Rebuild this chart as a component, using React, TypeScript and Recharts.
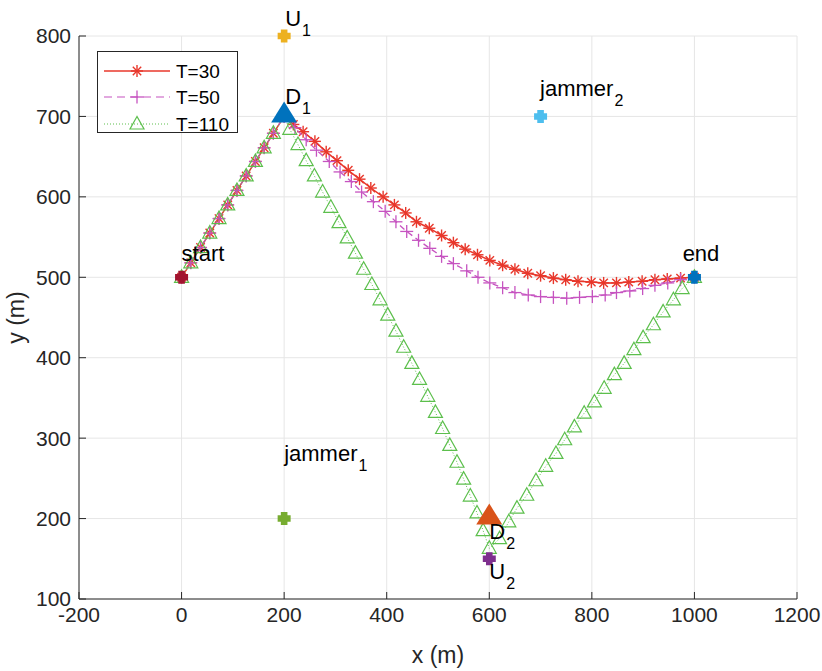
import React from 'react';
import { ScatterChart, Scatter, XAxis, YAxis, CartesianGrid, ReferenceDot } from 'recharts';

const RED = '#e8372b';
const MAGENTA = '#c653c0';
const GREEN = '#5cbf4c';
const AXIS = '#262626';
const FONT = '"Liberation Sans", Arial, Helvetica, sans-serif';

const xTicks = [-200, 0, 200, 400, 600, 800, 1000, 1200];
const yTicks = [100, 200, 300, 400, 500, 600, 700, 800];

// T=30
const t30X = [0, 18, 37, 55, 73, 90, 108, 126, 144, 161, 179, 200,
  218, 237, 260, 282, 303, 325, 347, 369, 393, 415, 437, 458, 483, 507, 530, 553, 577,
  601, 626, 650, 675, 700, 725, 749, 773, 799, 823, 848, 872, 898, 923, 947, 973, 1000];
const t30Y = [500, 518, 537, 555, 573, 590, 608, 626, 644, 661, 679, 700,
  690, 681, 669, 656, 645, 633, 622, 611, 600, 590, 580, 569, 561, 552, 543, 535, 528,
  521, 515, 510, 505, 502, 499, 497, 495, 494, 493, 493, 494, 495, 497, 498, 499, 500];

// T=50
const t50X = [0, 18, 37, 55, 73, 90, 108, 126, 144, 161, 179, 200,
  221, 243, 263, 288, 309, 331, 351, 374, 397, 418, 439, 462, 484, 507, 530, 556, 578,
  601, 626, 650, 676, 700, 725, 751, 776, 801, 826, 848, 874, 899, 923, 948, 973, 1000];
const t50Y = [500, 518, 537, 555, 573, 590, 608, 626, 644, 661, 679, 700,
  686, 671, 658, 644, 631, 619, 606, 594, 582, 569, 557, 546, 536, 526, 517, 508, 500,
  493, 487, 481, 478, 476, 475, 474, 475, 476, 478, 481, 483, 486, 490, 493, 497, 500];

// T=110
const t110X = [0, 18, 37, 55, 73, 90, 108, 126, 144, 161, 179, 200,
  211, 227, 243, 259, 275, 291, 307, 323, 339, 355, 371, 387, 402, 418, 433, 449, 464,
  480, 495, 509, 523, 537, 550, 563, 576, 588, 600,
  620, 638, 654, 673, 691, 710, 730, 747, 766, 785, 805, 824, 844, 863, 882, 900, 920,
  939, 959, 976, 1000];
const t110Y = [500, 518, 537, 555, 573, 590, 608, 626, 644, 661, 679, 700,
  684, 665, 645, 626, 606, 587, 568, 549, 530, 510, 491, 472, 453, 433, 413, 393, 373,
  352, 332, 312, 291, 270, 249, 228, 207, 185, 163,
  175, 196, 213, 229, 247, 265, 281, 298, 314, 331, 345, 362, 379, 393, 410, 425, 441,
  457, 472, 486, 500];

// fixed sites: start, end, U1, U2, jammer1, jammer2
const siteX = [0, 1000, 200, 600, 200, 700];
const siteY = [500, 500, 800, 150, 200, 700];
const siteColors = ['#a2142f', '#0072bd', '#edb120', '#7e2f8e', '#77ac30', '#4dbeee'];

// D1, D2
const droneX = [200, 600];
const droneY = [700, 200];
const droneColors = ['#0072bd', '#d95319'];

// text labels
const labelMain = ['start', 'end', 'U', 'D', 'jammer', 'jammer', 'D', 'U'];
const labelSub = ['', '', '1', '1', '2', '1', '2', '2'];
const labelX = [0, 977, 202, 202, 699, 200, 600, 600];
const labelY = [520, 520, 812, 715, 725, 271, 175, 125];

const legendNames = ['T=30', 'T=50', 'T=110'];

const toPoints = (xs: number[], ys: number[], colors?: string[]) =>
  xs.map((x, i) => ({ x, y: ys[i], color: colors ? colors[i] : undefined }));

const Star = (props: any) => {
  const { cx, cy } = props;
  const r = 6;
  const d = 4.2;
  return (
    <g stroke={RED} strokeWidth={1.4}>
      <line x1={cx - r} y1={cy} x2={cx + r} y2={cy} />
      <line x1={cx} y1={cy - r} x2={cx} y2={cy + r} />
      <line x1={cx - d} y1={cy - d} x2={cx + d} y2={cy + d} />
      <line x1={cx - d} y1={cy + d} x2={cx + d} y2={cy - d} />
    </g>
  );
};

const Plus = (props: any) => {
  const { cx, cy } = props;
  const r = 6.5;
  return (
    <g stroke={MAGENTA} strokeWidth={1.3}>
      <line x1={cx - r} y1={cy} x2={cx + r} y2={cy} />
      <line x1={cx} y1={cy - r} x2={cx} y2={cy + r} />
    </g>
  );
};

const Tri = (props: any) => {
  const { cx, cy } = props;
  return (
    <polygon
      points={`${cx},${cy - 7.5} ${cx - 7},${cy + 5} ${cx + 7},${cy + 5}`}
      fill="none"
      stroke={GREEN}
      strokeWidth={1.2}
    />
  );
};

const FatPlus = (props: any) => {
  const { cx, cy, payload } = props;
  const s = 6.5;
  const a = 3.3;
  const d = `M${cx - a},${cy - s} L${cx + a},${cy - s} L${cx + a},${cy - a} L${cx + s},${cy - a} L${cx + s},${cy + a} L${cx + a},${cy + a} L${cx + a},${cy + s} L${cx - a},${cy + s} L${cx - a},${cy + a} L${cx - s},${cy + a} L${cx - s},${cy - a} L${cx - a},${cy - a} Z`;
  return <path d={d} fill={payload.color} />;
};

const BigTri = (props: any) => {
  const { cx, cy, payload } = props;
  return (
    <polygon
      points={`${cx},${cy - 15} ${cx - 13},${cy + 6} ${cx + 13},${cy + 6}`}
      fill={payload.color}
    />
  );
};

const makeLabel = (main: string, sub: string) => (props: any) => {
  const { cx, cy } = props;
  return (
    <text x={cx} y={cy} fontFamily={FONT} fontSize={22} fill="#000">
      <tspan>{main}</tspan>
      {sub && (
        <tspan dx={1} dy={10} fontSize={16}>
          {sub}
        </tspan>
      )}
    </text>
  );
};

const Legend = () => (
  <svg
    width={141}
    height={86}
    style={{ position: 'absolute', left: 97, top: 51, overflow: 'visible' }}
  >
    <rect x={0.5} y={0.5} width={140} height={81} fill="#fff" stroke={AXIS} strokeWidth={1} />
    <line x1={7} y1={20} x2={73} y2={20} stroke={RED} strokeWidth={1.4} />
    <Star cx={40} cy={20} />
    <line x1={7} y1={46} x2={73} y2={46} stroke={MAGENTA} strokeWidth={1.2} strokeDasharray="8 5" />
    <Plus cx={40} cy={46} />
    <line x1={7} y1={73} x2={73} y2={73} stroke={GREEN} strokeWidth={1} strokeDasharray="1 2" />
    <Tri cx={40} cy={73} />
    {legendNames.map((n, i) => (
      <text key={n} x={79} y={[27, 53, 80][i]} fontFamily={FONT} fontSize={19} fill="#000">
        {n}
      </text>
    ))}
  </svg>
);

export default function App() {
  return (
    <div style={{ position: 'absolute', left: 0, top: 0, width: 822, height: 671, background: '#fff' }}>
      <ScatterChart
        width={822}
        height={671}
        margin={{ top: 36, right: 25, bottom: 0, left: 0 }}
      >
        <CartesianGrid stroke="#e6e6e6" strokeWidth={1} />
        <XAxis
          type="number"
          dataKey="x"
          domain={[-200, 1200]}
          ticks={xTicks}
          height={72}
          tickSize={-7}
          tickMargin={15}
          stroke={AXIS}
          tick={{ fill: AXIS, fontSize: 21, fontFamily: FONT }}
          label={{ value: 'x (m)', position: 'insideBottom', offset: 8, fill: AXIS, fontSize: 23, fontFamily: FONT }}
        />
        <YAxis
          type="number"
          dataKey="y"
          domain={[100, 800]}
          ticks={yTicks}
          width={79}
          tickSize={-7}
          tickMargin={15}
          stroke={AXIS}
          tick={{ fill: AXIS, fontSize: 21, fontFamily: FONT }}
          label={{
            value: 'y (m)',
            angle: -90,
            position: 'insideLeft',
            offset: 16,
            fill: AXIS,
            fontSize: 23,
            fontFamily: FONT,
            style: { textAnchor: 'middle' },
          }}
        />
        <XAxis
          xAxisId="top"
          orientation="top"
          type="number"
          domain={[-200, 1200]}
          ticks={xTicks}
          allowDataOverflow
          height={0}
          tickSize={-7}
          tick={false}
          stroke={AXIS}
        />
        <YAxis
          yAxisId="right"
          orientation="right"
          type="number"
          domain={[100, 800]}
          ticks={yTicks}
          allowDataOverflow
          width={0}
          tickSize={-7}
          tick={false}
          stroke={AXIS}
        />
        <Scatter
          name="T=30"
          data={toPoints(t30X, t30Y)}
          line={{ stroke: RED, strokeWidth: 1.5 }}
          lineType="joint"
          shape={Star}
          isAnimationActive={false}
        />
        <Scatter
          name="T=50"
          data={toPoints(t50X, t50Y)}
          line={{ stroke: MAGENTA, strokeWidth: 1.3, strokeDasharray: '6 4' }}
          lineType="joint"
          shape={Plus}
          isAnimationActive={false}
        />
        <Scatter
          name="T=110"
          data={toPoints(t110X, t110Y)}
          line={{ stroke: GREEN, strokeWidth: 1, strokeDasharray: '1 2' }}
          lineType="joint"
          shape={Tri}
          isAnimationActive={false}
        />
        <Scatter
          name="drones"
          data={toPoints(droneX, droneY, droneColors)}
          shape={BigTri}
          isAnimationActive={false}
        />
        <Scatter
          name="sites"
          data={toPoints(siteX, siteY, siteColors)}
          shape={FatPlus}
          isAnimationActive={false}
        />
        {labelMain.map((m, i) => (
          <ReferenceDot
            key={i}
            x={labelX[i]}
            y={labelY[i]}
            ifOverflow="visible"
            shape={makeLabel(m, labelSub[i])}
          />
        ))}
      </ScatterChart>
      <Legend />
    </div>
  );
}
